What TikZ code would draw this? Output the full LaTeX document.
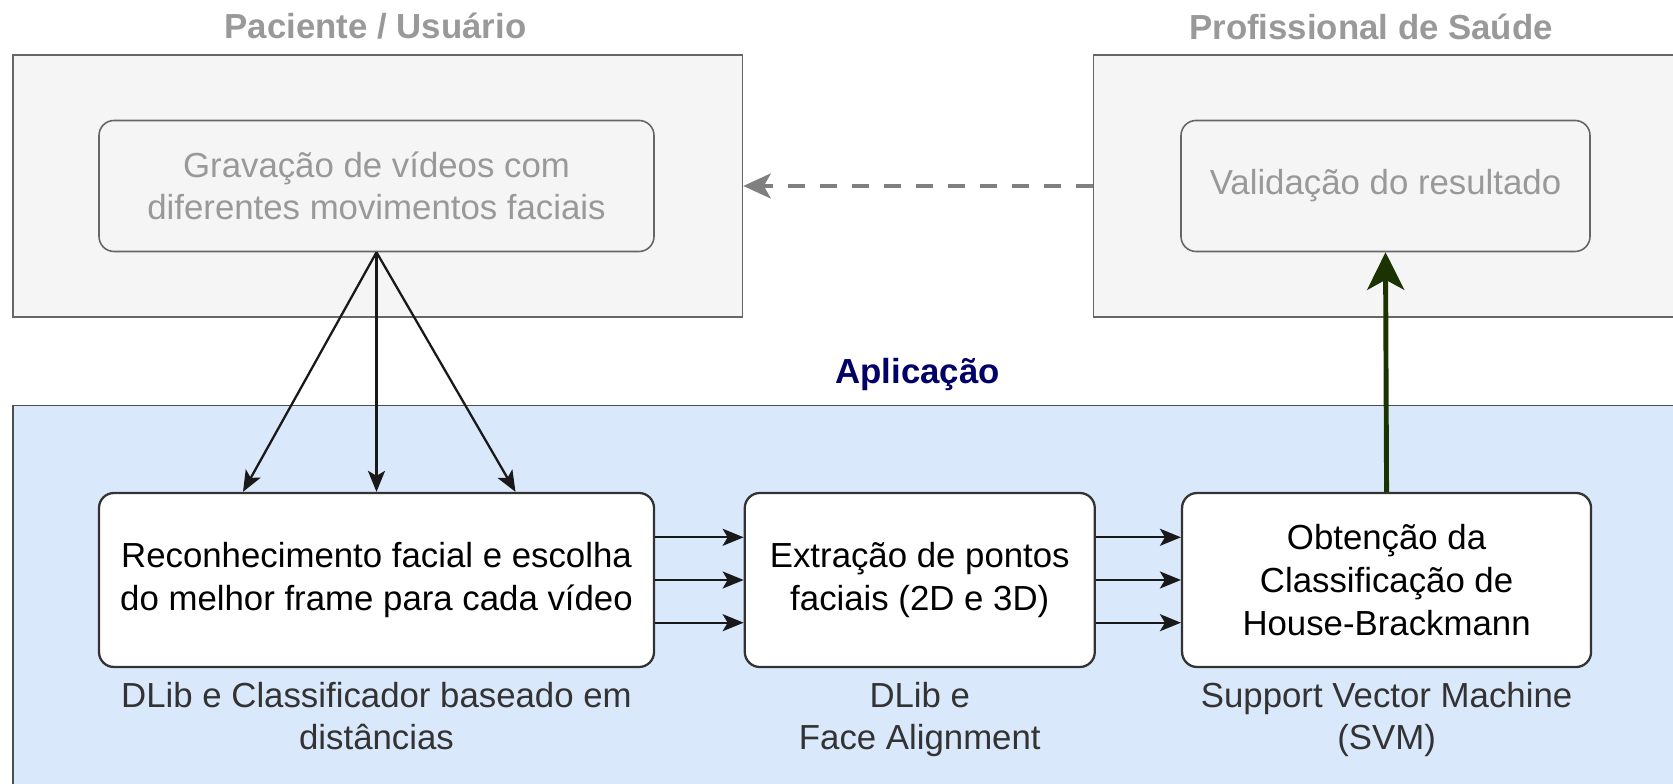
\documentclass[tikz,border=0pt]{standalone}
\usepackage{fontspec}
\setmainfont{Liberation Sans}
\usetikzlibrary{positioning, arrows.meta}
\definecolor{areafill}{HTML}{F5F5F5}
\definecolor{areadraw}{HTML}{666666}
\definecolor{softtext}{HTML}{999999}
\definecolor{appfill}{HTML}{DAE8FC}
\definecolor{appdraw}{HTML}{4D4D4D}
\definecolor{apptext}{HTML}{000066}
\definecolor{boxdraw}{HTML}{333333}
\definecolor{darkgreen}{HTML}{1B3300}
\definecolor{dashgray}{HTML}{808080}

\begin{document}
\begin{tikzpicture}[
    node distance=1.77cm,
    txt/.style={font=\fontsize{19.8}{24.3}\selectfont},
    title/.style={txt, font=\fontsize{19.8}{24.3}\selectfont\bfseries, inner sep=0pt},
    area/.style={rectangle, draw=areadraw, fill=areafill, line width=0.9pt, minimum height=5.24cm},
    softbox/.style={txt, rectangle, draw=areadraw, fill=areafill, rounded corners=0.3cm, line width=0.9pt, text=softtext, align=center, minimum height=2.62cm},
    box/.style={txt, rectangle, draw=boxdraw, fill=white, rounded corners=0.3cm, line width=1.3pt, align=center, minimum height=3.48cm},
    note/.style={txt, text=black!80, align=center, inner sep=0pt},
    flow/.style={-{Stealth[length=0.42cm, width=0.34cm, inset=0.1cm]}, line width=1.3pt, black!90},
    result/.style={-{Stealth[length=0.75cm, width=0.74cm, inset=0.2cm]}, line width=2.8pt, darkgreen},
    feedback/.style={-{Stealth[length=0.55cm, width=0.5cm, inset=0.14cm]}, line width=2pt, dashgray, dash pattern=on 0.34cm off 0.3cm}
]
    \useasboundingbox (0,0) rectangle (33.46,15.68);

    % patient side and health professional side
    \node[area, minimum width=14.59cm] (patarea) at (7.555,11.96) {};
    \node[area, minimum width=12.63cm] (valarea) at (28.185,11.96) {};
    \node[title, text=softtext] (pattitle) at (7.51,15.15) {Paciente / Usuário};
    \node[title, text=softtext] (valtitle) at (27.42,15.15) {Profissional de Saúde};
    \node[softbox, minimum width=11.1cm] (rec) at (7.53,11.96) {Gravação de vídeos com\\diferentes movimentos faciais};
    \node[softbox, minimum width=8.18cm] (val) at (27.71,11.96) {Validação do resultado};

    % application
    \node[rectangle, draw=appdraw, fill=appfill, line width=0.9pt, minimum width=36.18cm, minimum height=8.07cm] (app) at (18.35,3.535) {};
    \node[title, text=apptext, above=0.28cm of app] (apptitle) {Aplicação};

    \node[box, minimum width=11.1cm] (face) at (7.53,4.08) {Reconhecimento facial e escolha\\do melhor frame para cada vídeo};
    \node[box, minimum width=7.0cm, right=1.77cm of face] (ext) {Extração de pontos\\faciais (2D e 3D)};
    \node[box, minimum width=8.18cm, right=1.7cm of ext] (hb) {Obtenção da\\Classificação de\\House-Brackmann};

    \node[note, below=0.27cm of face] (facenote) {DLib e Classificador baseado em\\distâncias};
    \node[note, below=0.27cm of ext] (extnote) {DLib e\\Face Alignment};
    \node[note, below=0.27cm of hb] (hbnote) {Support Vector Machine\\(SVM)};

    \draw[flow] (rec.south) -- ([xshift=-2.67cm]face.north);
    \draw[flow] (rec.south) -- (face.north);
    \draw[flow] (rec.south) -- ([xshift=2.78cm]face.north);

    \draw[flow] ([yshift=0.854cm]face.east) -- ([yshift=0.854cm]ext.west);
    \draw[flow] (face.east) -- (ext.west);
    \draw[flow] ([yshift=-0.854cm]face.east) -- ([yshift=-0.854cm]ext.west);
    \draw[flow] ([yshift=0.854cm]ext.east) -- ([yshift=0.854cm]hb.west);
    \draw[flow] (ext.east) -- (hb.west);
    \draw[flow] ([yshift=-0.854cm]ext.east) -- ([yshift=-0.854cm]hb.west);

    \draw[result] (hb.north) -- (val.south);
    \draw[feedback] (valarea.west) -- (patarea.east);
\end{tikzpicture}
\end{document}
